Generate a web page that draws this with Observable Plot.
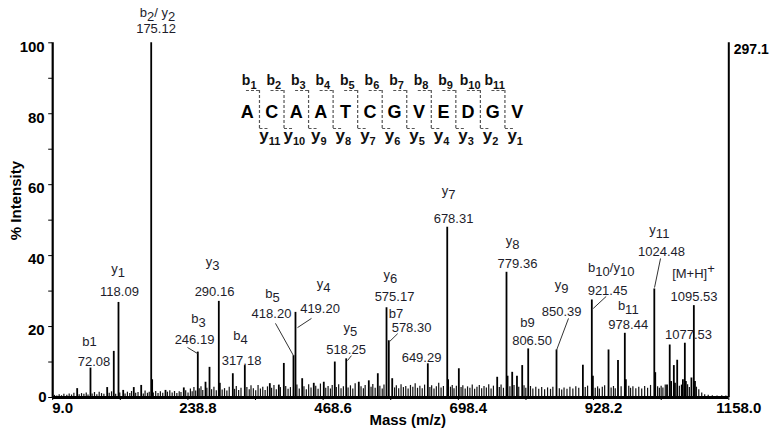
<!DOCTYPE html>
<html><head><meta charset="utf-8">
<script src="https://cdn.jsdelivr.net/npm/d3@7"></script>
<script src="https://cdn.jsdelivr.net/npm/@observablehq/plot@0.6"></script>
<style>
body{margin:0;background:#fff;}
#wrap{position:relative;width:770px;height:432px;font-family:"Liberation Sans",Arial,sans-serif;background:#fff;overflow:hidden;}
#pep{position:absolute;left:230px;top:50px;width:300px;height:110px;}
</style></head><body><div id="wrap"><div id="main"></div><div id="pep"></div></div>
<script>
// ---- spectrum peaks (m/z, % intensity) ----
const peakMz  = [50.6, 73.2, 101.6, 112.8, 120.8, 128.8, 146.8, 159.4, 176.4, 178.0, 200.7, 231.8, 255.6, 268.7, 275.5, 291.3, 293.0, 315.1, 335.5, 378.0, 393.3, 401.8, 418.2, 421.6, 433.0, 452.7, 469.7, 488.4, 507.8, 529.2, 546.2, 561.5, 576.3, 580.2, 586.0, 646.5, 679.5, 681.0, 699.2, 764.4, 780.2, 782.0, 789.9, 798.0, 806.9, 817.1, 865.2, 910.0, 925.2, 927.0, 953.6, 969.7, 981.3, 983.0, 1031.4, 1033.0, 1053.0, 1057.6, 1060.0, 1064.6, 1066.5, 1070.3, 1078.0, 1080.0, 1083.3, 1085.0, 1094.5, 1098.6, 1100.5];
const peakInt = [2.5, 8.3, 2.8, 13.0, 26.8, 2.0, 2.8, 3.4, 100, 5.0, 2.0, 2.7, 12.8, 4.3, 8.5, 27.1, 4.0, 6.7, 9.0, 3.9, 3.5, 9.6, 11.8, 24.0, 5.3, 4.0, 4.3, 10.0, 10.9, 4.3, 4.7, 6.7, 25.3, 16.0, 5.3, 9.5, 48.0, 5.0, 8.1, 5.7, 35.3, 6.0, 7.1, 6.0, 9.0, 13.7, 13.4, 9.1, 27.5, 6.0, 13.4, 10.4, 18.1, 5.0, 30.6, 7.0, 3.5, 14.8, 4.5, 9.0, 4.0, 10.5, 3.5, 5.0, 15.3, 4.5, 5.5, 25.9, 4.5];

// ---- baseline noise (m/z, % intensity) ----
const noiseMz  = [12, 16, 20, 24, 28, 33, 37, 41, 45, 54, 58, 62, 66, 69, 76, 80, 84, 88, 92, 96, 105, 109, 116, 123, 132, 136, 140, 143, 150, 154, 163, 166, 170, 173, 180, 184, 188, 192, 196, 204, 208, 212, 216, 220, 224, 227, 235, 239, 243, 246, 249, 252, 258, 261, 264, 271, 279, 283, 287, 297, 301, 305, 309, 318, 321, 325, 329, 339, 343, 346, 350, 354, 358, 362, 366, 370, 374, 381, 385, 389, 396, 405, 409, 413, 424, 428, 436, 440, 444, 448, 456, 460, 464, 473, 477, 481, 484, 491, 495, 499, 503, 511, 515, 519, 523, 533, 537, 540, 550, 553, 557, 565, 569, 572, 590, 593, 597, 601, 605, 609, 613, 617, 621, 625, 629, 633, 637, 641, 650, 653, 657, 661, 665, 669, 673, 685, 688, 691, 695, 703, 706, 710, 714, 718, 722, 726, 730, 734, 738, 742, 746, 750, 754, 758, 768, 771, 775, 786, 793, 801, 810, 813, 821, 825, 830, 835, 840, 845, 850, 855, 859, 870, 874, 878, 883, 888, 893, 898, 903, 914, 918, 931, 935, 938, 943, 947, 958, 962, 965, 975, 988, 991, 995, 1000, 1005, 1010, 1015, 1020, 1025, 1037, 1040, 1043, 1046, 1050, 1074, 1088, 1091, 1103, 1107, 1112, 1117, 1123, 1130, 1138, 1146, 1153];
const noiseInt = [0.6, 0.4, 0.8, 0.5, 0.9, 0.6, 1.0, 0.7, 1.2, 0.8, 1.1, 0.9, 1.3, 0.7, 1.0, 1.4, 0.8, 1.5, 1.1, 0.9, 1.2, 1.6, 0.9, 1.3, 1.0, 1.5, 1.1, 1.7, 1.2, 1.4, 1.0, 1.8, 1.2, 1.5, 1.3, 1.7, 1.1, 1.6, 1.2, 1.5, 1.9, 1.3, 1.7, 1.1, 1.6, 1.4, 1.9, 1.3, 2.4, 1.6, 2.8, 1.8, 2.5, 3.0, 2.0, 2.6, 2.2, 2.9, 1.9, 2.1, 2.5, 1.8, 2.9, 2.3, 3.1, 2.0, 2.6, 2.8, 2.2, 3.3, 2.5, 1.9, 3.4, 2.4, 2.9, 2.0, 3.0, 2.6, 3.4, 2.2, 2.8, 3.1, 2.3, 2.8, 3.5, 2.4, 3.0, 2.2, 3.6, 2.7, 3.2, 2.3, 3.8, 2.6, 3.1, 2.4, 3.4, 2.8, 3.6, 2.5, 3.0, 2.7, 3.3, 2.4, 3.9, 3.0, 2.5, 3.4, 2.9, 3.7, 2.6, 3.2, 2.4, 3.5, 2.7, 3.3, 2.5, 3.6, 2.8, 3.1, 2.4, 3.4, 2.9, 3.9, 2.6, 3.2, 2.5, 3.5, 2.8, 3.3, 2.4, 3.0, 4.0, 2.7, 3.1, 2.9, 3.4, 2.5, 3.2, 2.8, 3.3, 2.4, 3.0, 2.6, 3.5, 2.3, 2.9, 3.4, 2.5, 3.1, 2.7, 3.6, 2.4, 3.2, 2.8, 3.5, 2.6, 3.0, 3.4, 2.9, 3.3, 2.6, 3.1, 2.4, 2.9, 2.3, 2.8, 2.2, 2.7, 2.3, 2.9, 2.5, 2.1, 2.7, 2.3, 2.9, 2.4, 3.0, 2.6, 2.8, 3.2, 2.6, 3.0, 2.4, 2.9, 3.3, 2.7, 3.1, 2.5, 3.0, 3.2, 2.6, 3.0, 2.5, 2.9, 2.4, 3.1, 2.6, 3.4, 3.0, 2.6, 3.2, 2.7, 3.5, 3.2, 3.6, 2.8, 2.9, 2.2, 1.3, 0.8, 0.6, 0.5, 0.4, 0.5, 0.4];

// ---- ion annotations ----
const ionText = ["b1", "y_{1}", "b_{2}/ y_{2}", "y_{3}", "b_{3}", "b_{4}", "b_{5}", "y_{4}", "y_{5}", "y_{6}", "b7", "y_{7}", "y_{8}", "b9", "y_{9}", "b_{10}/y_{10}", "b_{11}", "y_{11}", "[M+H]^{+}"];
const ionMz   = [71.5, 120, 187.1, 280.6, 256.8, 328.2, 382.6, 469.2, 515, 583, 592.4, 681.7, 790.5, 815.9, 874, 958.2, 987.1, 1040, 1098];
const ionInt  = [14.5, 35.2, 107.2, 37.2, 20.9, 16.2, 28.0, 31.0, 18.4, 33.4, 22.3, 57.2, 42.9, 20.0, 30.6, 35.5, 24.7, 46.1, 33.6];
const massText = ["72.08", "118.09", "175.12", "290.16", "246.19", "317.18", "418.20", "419.20", "518.25", "575.17", "578.30", "649.29", "678.31", "779.36", "806.50", "850.39", "921.45", "978.44", "1024.48", "1095.53", "1077.53"];
const massMz   = [79.2, 122.5, 184.6, 284, 250, 329.9, 380.8, 463.3, 507.5, 589.9, 618.8, 635.8, 690.2, 798.9, 823.6, 874, 951.9, 987.1, 1043.6, 1098.9, 1089.5];
const massInt  = [9.0, 28.5, 102.9, 28.5, 15.2, 9.3, 22.3, 23.7, 12.4, 27.3, 18.6, 10.1, 49.1, 36.4, 14.7, 23.1, 28.8, 19.2, 39.8, 27.3, 16.6];
const leadMz1  = [238.1, 387.6, 448.8, 516.7, 595.3, 885.6, 949.7, 1042];
const leadInt1 = [14.1, 20.9, 22.3, 11.8, 18.0, 22.3, 28.5, 39.2];
const leadMz2  = [255.1, 418.2, 425, 509.9, 581.7, 865.2, 927.6, 1031.8];
const leadInt2 = [12.4, 11.8, 19.7, 10.4, 15.8, 13.3, 25.1, 31];

// ---- axes ----
const xTicks = [9.0, 238.8, 468.6, 698.4, 928.2, 1158.0];
const xMinor = [123.9, 353.7, 583.5, 813.3, 1043.1];
const yTicks = [0, 20, 40, 60, 80, 100];
const yMinor = [10, 30, 50, 70, 90];
const rightLabel = "297.1";

// ---- peptide ----
const sequence = ["A","C","A","A","T","C","G","V","E","D","G","V"];
const bLabels = ["b_{1}","b_{2}","b_{3}","b_{4}","b_{5}","b_{6}","b_{7}","b_{8}","b_{9}","b_{10}","b_{11}"];
const yLabels = ["y_{11}","y_{10}","y_{9}","y_{8}","y_{7}","y_{6}","y_{5}","y_{4}","y_{3}","y_{2}","y_{1}"];

const FONT = "Liberation Sans, Arial, sans-serif";
const peaks = peakMz.map((m, i) => ({mz: m, int: peakInt[i]}));
const noise = noiseMz.map((m, i) => ({mz: m, int: noiseInt[i]}));
const ions = ionText.map((t, i) => ({t, mz: ionMz[i], int: ionInt[i]}));
const masses = massText.map((t, i) => ({t, mz: massMz[i], int: massInt[i]}));
const leaders = leadMz1.map((m, i) => ({x1: m, y1: leadInt1[i], x2: leadMz2[i], y2: leadInt2[i]}));
const labelColor = "#1d1d2b";

const chart = Plot.plot({
  width: 770, height: 432,
  marginLeft: 52.2, marginRight: 41.7, marginTop: 42.3, marginBottom: 35,
  x: {domain: [9, 1158], axis: null},
  y: {domain: [0, 100], axis: null},
  style: {fontFamily: FONT, background: "white", overflow: "visible"},
  marks: [
    Plot.ruleX(noise, {x: "mz", y1: 0, y2: "int", stroke: "#111", strokeWidth: 1.2}),
    Plot.ruleX(peaks, {x: "mz", y1: 0, y2: "int", stroke: "#000", strokeWidth: 1.8}),
    Plot.ruleY([0], {stroke: "#000", strokeWidth: 3}),
    Plot.ruleX([9], {stroke: "#000", strokeWidth: 2.2}),
    Plot.ruleX([1158], {stroke: "#000", strokeWidth: 2}),
    Plot.axisY({ticks: [...yTicks, ...yMinor], tickSize: 4, tickFormat: () => "", label: null, stroke: "#000"}),
    Plot.axisX({ticks: [...xTicks, ...xMinor], tickSize: 3, tickFormat: () => "", label: null, stroke: "#000"}),
    Plot.text(yTicks.filter(d => d > 0), {y: d => d, text: d => String(d), frameAnchor: "left", textAnchor: "end", dx: -8, dy: 4, fontSize: 15, fontWeight: "bold", fill: "#000"}),
    Plot.text(yTicks.filter(d => d === 0), {y: d => d, text: d => String(d), frameAnchor: "left", textAnchor: "end", dx: -6, dy: 0, fontSize: 15, fontWeight: "bold", fill: "#000"}),
    Plot.text(xTicks, {x: d => d, text: d => d.toFixed(1), frameAnchor: "bottom", lineAnchor: "top", dy: 5, dx: 10, fontSize: 15, fontWeight: "bold", fill: "#000"}),
    Plot.text(["% Intensity"], {frameAnchor: "left", rotate: -90, dx: -37, dy: 20, fontSize: 15, fontWeight: "bold", fill: "#000"}),
    Plot.text(["Mass (m/z)"], {frameAnchor: "bottom", lineAnchor: "bottom", dx: 17, dy: 27, fontSize: 15, fontWeight: "bold", fill: "#000"}),
    Plot.text([rightLabel], {frameAnchor: "top-right", textAnchor: "start", lineAnchor: "bottom", dx: 5, dy: 11, fontSize: 14, fontWeight: "bold", fill: "#000"}),
    Plot.link(leaders, {x1: "x1", y1: "y1", x2: "x2", y2: "y2", stroke: "#333", strokeWidth: 1}),
    Plot.text(ions, {x: "mz", y: "int", text: "t", lineAnchor: "bottom", fontSize: 13, fill: labelColor}),
    Plot.text(masses, {x: "mz", y: "int", text: "t", lineAnchor: "bottom", fontSize: 13, fill: labelColor})
  ]
});

function subscriptify(root, shiftPx, subSize) {
  root.querySelectorAll("text").forEach(t => {
    const s = t.textContent;
    if (!/[_^]\{/.test(s)) return;
    while (t.firstChild) t.removeChild(t.firstChild);
    const re = /([_^])\{([^}]*)\}/g;
    let last = 0, m, cur = 0;
    const add = (str, target, small) => {
      if (!str) return;
      const ts = document.createElementNS("http://www.w3.org/2000/svg", "tspan");
      const d = target - cur;
      if (d !== 0) ts.setAttribute("dy", d + "px");
      if (small && subSize) ts.setAttribute("font-size", subSize);
      ts.textContent = str;
      t.appendChild(ts);
      cur = target;
    };
    while ((m = re.exec(s))) {
      add(s.slice(last, m.index), 0, false);
      add(m[2], m[1] === "_" ? shiftPx : -shiftPx * 1.3, true);
      last = re.lastIndex;
    }
    add(s.slice(last), 0, false);
  });
}
subscriptify(chart, 4, null);
document.getElementById("main").appendChild(chart);

// ---- peptide fragmentation diagram ----
const cleavages = sequence.slice(1).map((d, i) => i + 0.5);
const pep = Plot.plot({
  width: 300, height: 110, margin: 0,
  x: {domain: [0, 11], range: [16.7, 286.7], axis: null},
  y: {type: "point", domain: ["b", "seq", "y"], range: [33, 90], padding: 0, axis: null},
  style: {fontFamily: FONT, background: "transparent", overflow: "visible"},
  marks: [
    Plot.ruleX(cleavages, {x: d => d, y1: () => "b", y2: () => "y", insetTop: 6, insetBottom: 12, stroke: "#555", strokeWidth: 1.2, strokeDasharray: "3,2"}),
    Plot.link(cleavages, {x1: d => d - 0.55, x2: d => d, y1: () => "b", y2: () => "b", dy: 6, stroke: "#555", strokeWidth: 1.2, strokeDasharray: "3,2"}),
    Plot.link(cleavages, {x1: d => d, x2: d => d + 0.35, y1: () => "y", y2: () => "y", dy: -12, stroke: "#555", strokeWidth: 1.2, strokeDasharray: "3,2"}),
    Plot.text(sequence, {x: (d, i) => i, y: () => "seq", text: d => d, fontSize: 18, fontWeight: "bold", fill: "#000"}),
    Plot.text(bLabels, {x: (d, i) => i, y: () => "b", text: d => d, lineAnchor: "bottom", dx: 2, fontSize: 14, fontWeight: "bold", fill: "#111"}),
    Plot.text(yLabels, {x: (d, i) => i + 1, y: () => "y", text: d => d, lineAnchor: "bottom", dx: -2, fontSize: 17, fontWeight: "bold", fill: "#111"})
  ]
});
subscriptify(pep, 4, 11);
document.getElementById("pep").appendChild(pep);
</script>
</body></html>
